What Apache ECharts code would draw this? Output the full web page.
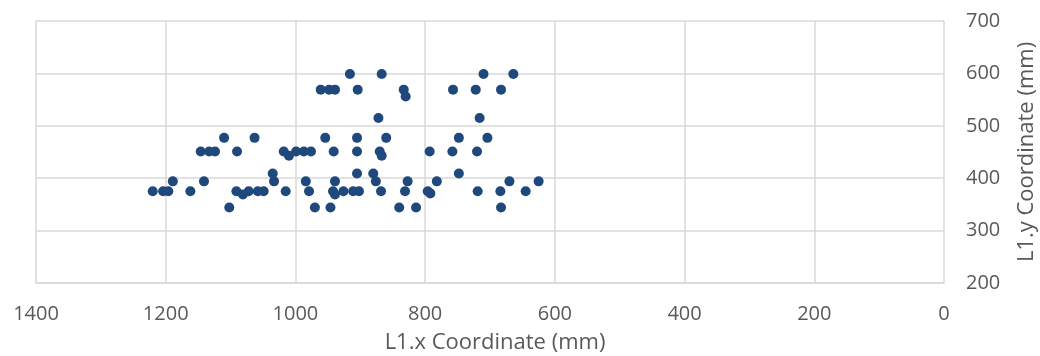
<!DOCTYPE html>
<html>
<head>
<meta charset="utf-8">
<script src="https://cdn.jsdelivr.net/npm/echarts@6/dist/echarts.min.js"></script>
<style>
  html, body { margin: 0; padding: 0; background: #fff; }
  #chart { width: 1040px; height: 356px; }
</style>
</head>
<body>
<div id="chart"></div>
<script>
// L1 coordinates (mm)
var xValues = [
  1220, 1204, 1196, 1162, 1091, 1072, 1058, 1049, 1015, 979, 942, 926, 911, 902, 868, 831, 796, 719, 684, 645,
  1081, 939, 792,
  1189, 1141, 1033, 984, 939, 876, 827, 782, 670, 625,
  1035, 905, 880, 748,
  1102, 970, 946, 840, 814, 683,
  1146, 1133, 1124, 1090, 1018, 999, 987, 976, 941, 905, 870, 793, 758, 720,
  1010, 867,
  1110, 1063, 954, 905, 860, 748, 704,
  872, 716,
  830,
  961, 948, 939, 904, 833, 757, 722, 683,
  916, 867, 710, 664
];
var yValues = [
  375, 375, 375, 375, 375, 375, 375, 375, 375, 375, 375, 375, 375, 375, 375, 375, 375, 375, 375, 375,
  369, 369, 371,
  394, 394, 394, 394, 394, 394, 394, 394, 394, 394,
  409, 409, 409, 409,
  344, 344, 344, 344, 344, 344,
  451, 451, 451, 451, 451, 451, 451, 451, 451, 451, 451, 451, 451, 451,
  443, 443,
  477, 477, 477, 477, 477, 477, 477,
  515, 515,
  556,
  569, 569, 569, 569, 569, 569, 569, 569,
  599, 599, 599, 599
];

var points = xValues.map(function (x, i) { return [x, yValues[i]]; });

var gridColor = '#d9d9d9';
var textColor = '#595959';
var font = '"Open Sans", "Liberation Sans", sans-serif';

var option = {
  animation: false,
  backgroundColor: '#fff',
  grid: { left: 36, right: 96, top: 21, bottom: 73, outerBoundsMode: 'none', containLabel: false },
  xAxis: {
    type: 'value',
    inverse: true,
    min: 0,
    max: 1400,
    interval: 200,
    name: 'L1.x Coordinate (mm)',
    nameLocation: 'middle',
    nameGap: 49,
    nameTextStyle: { color: textColor, fontSize: 22, fontFamily: font, padding: [0, 0, 0, 10] },
    axisLine: { show: true, lineStyle: { color: gridColor, width: 1.5 } },
    axisTick: { show: false },
    axisLabel: {
      color: textColor, fontSize: 20, fontFamily: font, margin: 21,
      formatter: function (v) { return String(v); }
    },
    splitLine: { show: true, lineStyle: { color: gridColor, width: 1.5 } }
  },
  yAxis: {
    type: 'value',
    position: 'right',
    min: 200,
    max: 700,
    interval: 100,
    name: 'L1.y Coordinate (mm)',
    nameLocation: 'middle',
    nameRotate: 90,
    nameGap: 72,
    nameTextStyle: { color: textColor, fontSize: 22, fontFamily: font },
    axisLine: { show: false },
    axisTick: { show: false },
    axisLabel: {
      color: textColor, fontSize: 20, fontFamily: font, margin: 22,
      formatter: function (v) { return String(v); }
    },
    splitLine: { show: true, lineStyle: { color: gridColor, width: 1.5 } }
  },
  series: [
    {
      type: 'scatter',
      symbol: 'circle',
      symbolSize: 10,
      itemStyle: { color: '#1f497d', opacity: 1 },
      data: points
    }
  ]
};

var chart = echarts.init(document.getElementById('chart'), null, { renderer: 'canvas' });
chart.setOption(option);
</script>
</body>
</html>
